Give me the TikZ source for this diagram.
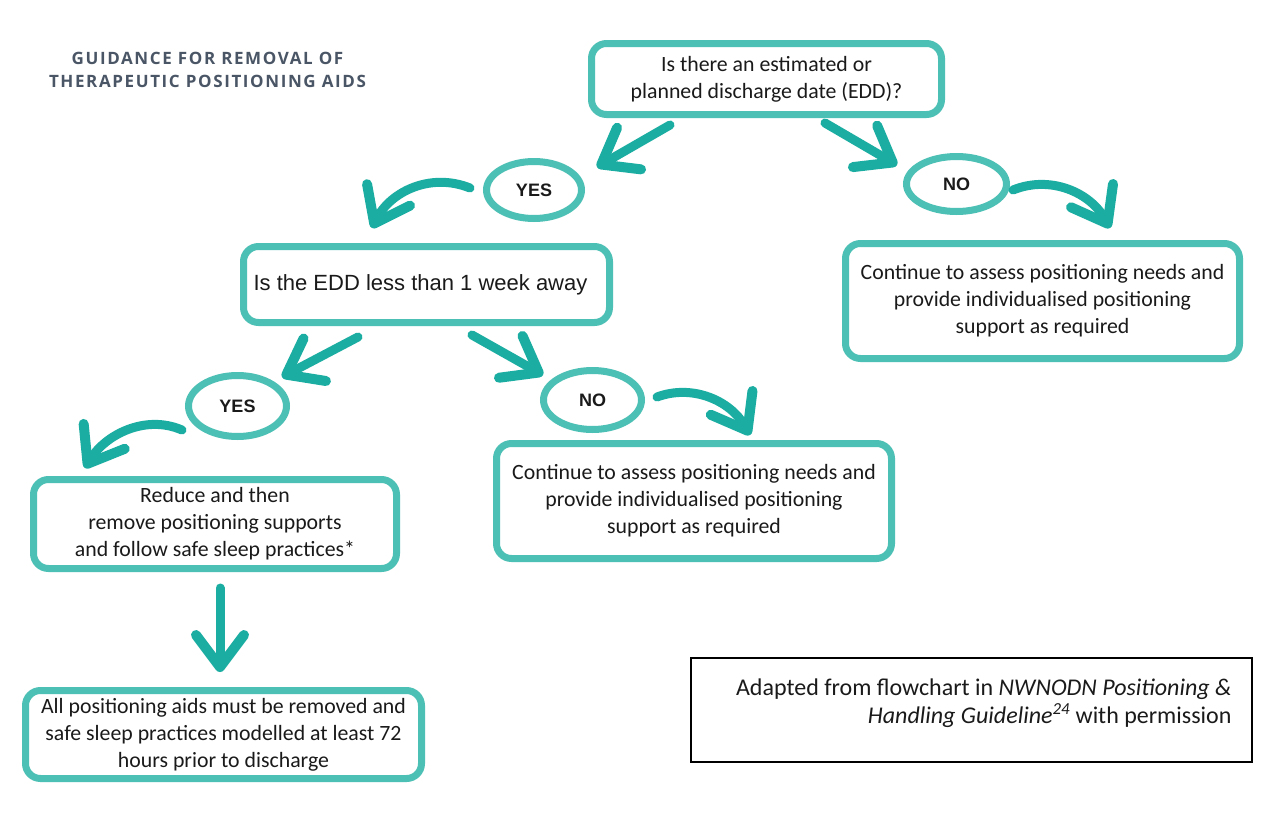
\documentclass[tikz,border=0pt]{standalone}
\usepackage{fontspec}
\setmainfont{Carlito}
\newfontfamily\arialf{Liberation Sans}
\newfontfamily\titlef[LetterSpace=9.5]{Open Sans}
\usetikzlibrary{arrows.meta,shapes.geometric}
\definecolor{boxc}{HTML}{4DC0B5}
\definecolor{arrc}{HTML}{1BADA1}
\definecolor{titc}{HTML}{4A5666}
\definecolor{txtc}{HTML}{1A1A1A}
\tikzset{
  box/.style={draw=boxc, line width=7pt, rounded corners=15pt, align=center,
    text=txtc, font=\fontsize{21.8}{27}\selectfont, inner sep=0pt},
  oval/.style={draw=boxc, line width=7pt, ellipse, inner sep=0pt, text=txtc,
    font=\arialf\bfseries\fontsize{18}{20}\selectfont},
  tarrow/.style={draw=arrc, line width=9pt, line cap=round,
    -{Straight Barb[length=32pt,width=48pt,line width=10pt,round]}},
}
\begin{document}
\begin{tikzpicture}[x=1pt,y=-1pt]
\useasboundingbox (0,0) rectangle (1283,814);
\fill[white] (0,0) rectangle (1283,814);

\node[text=titc, align=center, font=\titlef\bfseries\fontsize{17}{23}\selectfont] (title) at (207.5,70)
  {GUIDANCE FOR REMOVAL OF\\THERAPEUTIC POSITIONING AIDS};

\node[box, minimum width=350pt, minimum height=71pt] (b1) at (766.5,79)
  {Is there an estimated or\\planned discharge date (EDD)?};
\node[oval, minimum width=95pt, minimum height=57pt] (yes1) at (534,190) {YES};
\node[oval, minimum width=100pt, minimum height=55pt] (no1) at (956.5,184) {NO};
\node[box, minimum width=366pt, minimum height=76pt, font=\arialf\fontsize{22}{24}\selectfont] (b2) at (426.5,284.5)
  {Is the EDD less than 1 week away\hspace*{12pt}};
\node[box, minimum width=394pt, minimum height=115pt] (b3) at (1042.5,301)
  {Continue to assess positioning needs and\\provide individualised positioning\\support as required};
\node[oval, minimum width=98pt, minimum height=61pt] (yes2) at (237.5,406) {YES};
\node[oval, minimum width=98pt, minimum height=59pt] (no2) at (592.5,400) {NO};
\node[box, minimum width=363pt, minimum height=89pt] (b4) at (215,524)
  {Reduce and then\\remove positioning supports\\and follow safe sleep practices*};
\node[box, minimum width=395pt, minimum height=115pt] (b5) at (694,501)
  {Continue to assess positioning needs and\\provide individualised positioning\\support as required};
\node[box, minimum width=396pt, minimum height=88pt] (b6) at (223.5,734.5)
  {All positioning aids must be removed and\\safe sleep practices modelled at least 72\\hours prior to discharge};
\node[draw=black, line width=1.5pt, minimum width=561pt, minimum height=104pt] (credit) at (971.5,710) {};
\node[align=right, anchor=east, text=txtc, font=\fontsize{24}{28}\selectfont] (ctext) at (1235,703)
  {Adapted from flowchart in \textit{NWNODN Positioning \&}\\\textit{Handling Guideline\textsuperscript{24}} with permission};

\coordinate (a1s) at (670,125); \coordinate (a1e) at (597,167);
\coordinate (a2s) at (825,123); \coordinate (a2e) at (897,165);
\coordinate (a3s) at (1013,190); \coordinate (a3e) at (1110,228);
\coordinate (a4s) at (470,188); \coordinate (a4e) at (372,228);
\coordinate (a5s) at (358,337); \coordinate (a5e) at (282,377);
\coordinate (a6s) at (472,335); \coordinate (a6e) at (543,375);
\coordinate (a7s) at (657,397); \coordinate (a7e) at (750,435);
\coordinate (a8s) at (182,430); \coordinate (a8e) at (85,468);
\coordinate (a9s) at (220,588); \coordinate (a9e) at (220,672);

\draw[tarrow] (a1s) -- (a1e);
\draw[tarrow] (a2s) -- (a2e);
\draw[tarrow] (a3s) .. controls (1050,175) and (1090,192) .. (a3e);
\draw[tarrow] (a4s) .. controls (430,172) and (390,192) .. (a4e);
\draw[tarrow] (a5s) -- (a5e);
\draw[tarrow] (a6s) -- (a6e);
\draw[tarrow] (a7s) .. controls (692,384) and (730,400) .. (a7e);
\draw[tarrow] (a8s) .. controls (145,414) and (105,435) .. (a8e);
\draw[tarrow] (a9s) -- (a9e);
\end{tikzpicture}
\end{document}
